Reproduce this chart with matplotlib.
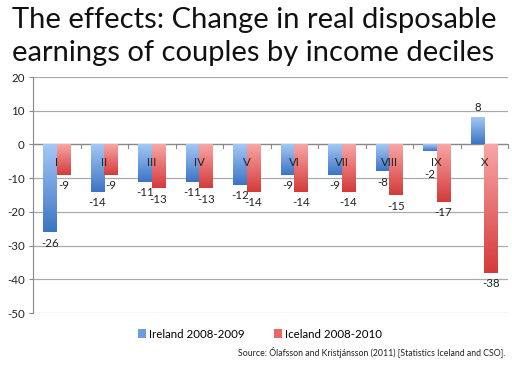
import numpy as np
import matplotlib
matplotlib.use("Agg")
import matplotlib.pyplot as plt
from matplotlib.colors import LinearSegmentedColormap
from matplotlib.patches import Patch

categories = ["I", "II", "III", "IV", "V", "VI", "VII", "VIII", "IX", "X"]
ireland = [-26, -14, -11, -11, -12, -9, -9, -8, -2, 8]
iceland = [-9, -9, -13, -13, -14, -14, -14, -15, -17, -38]
series_names = ["Ireland 2008-2009", "Iceland 2008-2010"]
yticks = [20, 10, 0, -10, -20, -30, -40, -50]

plt.rcParams['font.family'] = ['Lato', 'DejaVu Sans']

fig = plt.figure(figsize=(5.12, 3.65), dpi=100)
ax = fig.add_axes([33/512, 1-313/365, 475/512, (313-77)/365])

blue_cmap = LinearSegmentedColormap.from_list("b", ["#a4c8f6", "#3b74c4"])
red_cmap = LinearSegmentedColormap.from_list("r", ["#f8a6a6", "#d43a3a"])

x = np.arange(len(categories))
w = 0.285
grad = np.linspace(0, 1, 256).reshape(-1, 1)
LFS = 8.3

def gbar(xc, v, cmap):
    bars = ax.bar(xc, v, w, color='none', edgecolor='none', zorder=3)
    for b in bars:
        x0, y0 = b.get_x(), min(0, b.get_height())
        x1, y1 = x0 + b.get_width(), max(0, b.get_height())
        im = ax.imshow(grad, cmap=cmap, aspect='auto', extent=[x0, x1, y0, y1],
                       origin='upper', zorder=3)
        im.set_clip_path(b)
    return bars

gbar(x - w/2, ireland, blue_cmap)
gbar(x + w/2, iceland, red_cmap)

for xi, v in zip(x - w/2, ireland):
    if v >= 0:
        ax.annotate(str(v), (xi, v), xytext=(0, 3), textcoords='offset points',
                    ha='center', va='bottom', fontsize=LFS, color='#222222', zorder=5)
    else:
        # keep short bars' labels clear of the category label
        yv = min(v, -5.5)
        ax.annotate(str(v), (xi, yv), xytext=(0, -4), textcoords='offset points',
                    ha='center', va='top', fontsize=LFS, color='#222222', zorder=5)
for xi, v in zip(x + w/2, iceland):
    ax.annotate(str(v), (xi, v), xytext=(0, -4), textcoords='offset points',
                ha='center', va='top', fontsize=LFS, color='#222222', zorder=5)

for xi, c in zip(x, categories):
    ax.annotate(c, (xi, 0), xytext=(0, -9), textcoords='offset points',
                ha='center', va='top', fontsize=LFS, color='#222222', zorder=5)

ax.set_xlim(-0.5, len(categories) - 0.5)
ax.set_ylim(-50, 20)
ax.set_yticks(yticks)
ax.set_yticklabels([str(t) for t in yticks], fontsize=LFS, color='#222222')
ax.tick_params(axis='y', length=3, color='#888888', pad=3)
ax.set_xticks([])
ax.grid(axis='y', color='#aaaaaa', linewidth=0.9, zorder=0)
ax.set_axisbelow(True)
for s in ['top', 'right', 'bottom']:
    ax.spines[s].set_visible(False)
ax.spines['left'].set_color('#888888')
ax.axhline(0, color='#888888', linewidth=0.9, zorder=2)
for b in np.arange(0.5, len(categories) - 0.5 + 1, 1.0):
    ax.plot([b, b], [0, -1.0], color='#888888', linewidth=0.8, zorder=2, clip_on=False)

handles = [Patch(facecolor='#6a9ee0', edgecolor='none'),
           Patch(facecolor='#e86868', edgecolor='none')]
fig.legend(handles, series_names, loc='center', bbox_to_anchor=(260/512, 1-334/365),
           ncol=2, frameon=False, fontsize=LFS, handlelength=0.7, handleheight=0.7,
           handletextpad=0.3, columnspacing=2.5)

fig.text(505/512, 1-352/365, "Source: Ólafsson and Kristjánsson (2011) [Statistics Iceland and CSO].",
         ha='right', va='center', fontsize=6.3, color='#222222')

fig.text(12/512, 1-20/365, "The effects: Change in real disposable", ha='left', va='center',
         fontsize=21, color='#111111')
fig.text(12/512, 1-53/365, "earnings of couples by income deciles", ha='left', va='center',
         fontsize=21, color='#111111')

fig.savefig("out.png", dpi=100)
